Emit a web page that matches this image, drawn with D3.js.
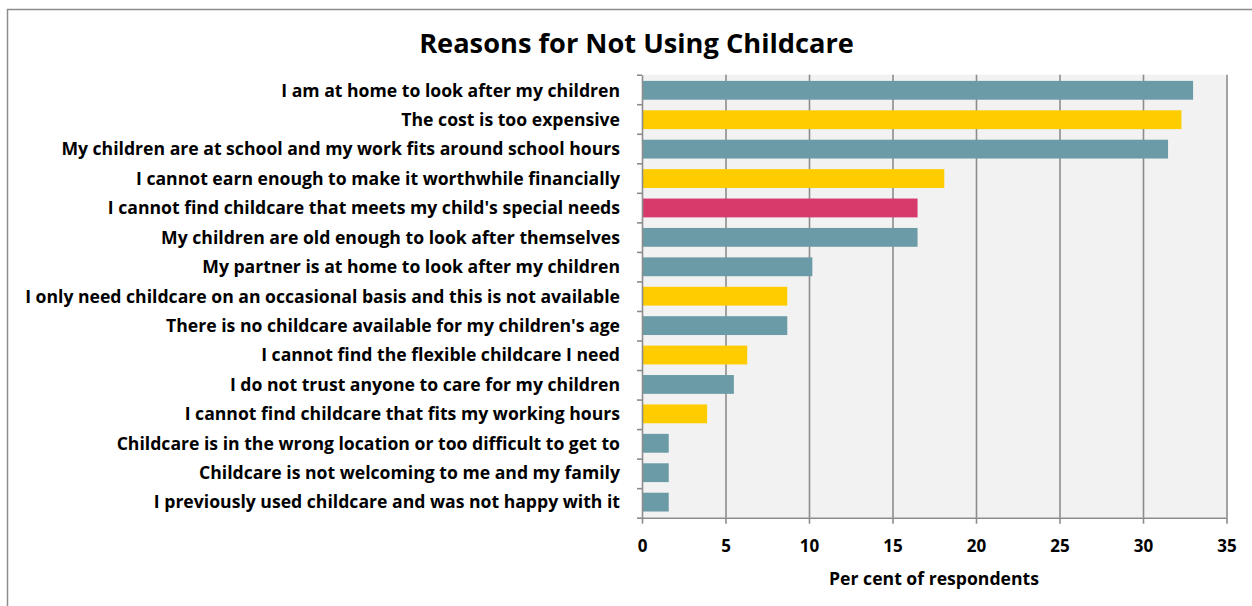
<!DOCTYPE html>
<html>
<head>
<meta charset="utf-8">
<script src="https://cdn.jsdelivr.net/npm/d3@7"></script>
<style>
  html, body { margin: 0; padding: 0; background: #fff; }
  svg { display: block; }
  text { font-family: "Open Sans", Lato, sans-serif; font-weight: 700; fill: #000; }
</style>
</head>
<body>
<svg id="chart" width="1252" height="606"></svg>
<script>
// Survey answers, top to bottom
const categories = [
  "I am at home to look after my children",
  "The cost is too expensive",
  "My children are at school and my work fits around school hours",
  "I cannot earn enough to make it worthwhile financially",
  "I cannot find childcare that meets my child's special needs",
  "My children are old enough to look after themselves",
  "My partner is at home to look after my children",
  "I only need childcare on an occasional basis and this is not available",
  "There is no childcare available for my children's age",
  "I cannot find the flexible childcare I need",
  "I do not trust anyone to care for my children",
  "I cannot find childcare that fits my working hours",
  "Childcare is in the wrong location or too difficult to get to",
  "Childcare is not welcoming to me and my family",
  "I previously used childcare and was not happy with it"
];
// Per cent of respondents giving each reason
const values = [33.0, 32.3, 31.5, 18.1, 16.5, 16.5, 10.2, 8.7, 8.7, 6.3, 5.5, 3.9, 1.6, 1.6, 1.6];
// Reason group: general, availability/cost, special needs
const groups = ["general", "supply", "general", "supply", "special", "general", "general",
                "supply", "general", "supply", "general", "supply", "general", "general", "general"];
const xTicks = [0, 5, 10, 15, 20, 25, 30, 35];

const title = "Reasons for Not Using Childcare";
const xTitle = "Per cent of respondents";

const colour = d3.scaleOrdinal()
  .domain(["general", "supply", "special"])
  .range(["#6a9ba6", "#ffcc00", "#d73a6b"]);

const svg = d3.select("#chart");
const plot = { left: 642, right: 1226.5, top: 74.7, bottom: 517.7 };
const FONT = "'Open Sans', Lato, sans-serif";

// Pick a font size so that the widest text of a selection spans the given width
function fitWidth(sel, base, target) {
  sel.style("font-size", base + "px");
  let widest = 0;
  sel.each(function () { widest = Math.max(widest, this.getComputedTextLength()); });
  const size = widest > 0 ? base * target / widest : base;
  sel.style("font-size", size.toFixed(2) + "px");
  return size;
}

// Outer chart frame
svg.append("rect")
  .attr("x", 7.5).attr("y", 9.5)
  .attr("width", 1300).attr("height", 700)
  .attr("fill", "none").attr("stroke", "#8c8c8c").attr("stroke-width", 1.5);

const x = d3.scaleLinear().domain([0, 35]).range([plot.left, plot.right]);
const y = d3.scaleBand().domain(categories)
  .range([plot.top, plot.bottom]).paddingInner(0.36).paddingOuter(0.21);
const yEdge = d3.scaleLinear().domain([0, categories.length]).range([plot.top, plot.bottom]);

// Plot background
svg.append("rect")
  .attr("x", plot.left).attr("y", plot.top)
  .attr("width", plot.right - plot.left).attr("height", plot.bottom - plot.top)
  .attr("fill", "#f2f2f2");

// Vertical gridlines
const grid = svg.append("g")
  .attr("transform", `translate(0,${plot.bottom})`)
  .call(d3.axisBottom(x).tickValues(xTicks.slice(1)).tickSize(-(plot.bottom - plot.top)).tickFormat(""));
grid.select(".domain").remove();
grid.selectAll(".tick line").attr("stroke", "#8c8c8c").attr("stroke-width", 1.6);

// Bars
svg.append("g").selectAll("rect")
  .data(categories)
  .join("rect")
  .attr("x", x(0))
  .attr("y", d => y(d))
  .attr("width", (d, i) => x(values[i]) - x(0))
  .attr("height", y.bandwidth())
  .attr("fill", (d, i) => colour(groups[i]));

// X axis
const xAxis = svg.append("g")
  .attr("transform", `translate(0,${plot.bottom})`)
  .call(d3.axisBottom(x).tickValues(xTicks).tickSize(6).tickPadding(10).tickSizeOuter(0));
xAxis.select(".domain").attr("stroke", "#8c8c8c").attr("stroke-width", 1.6);
xAxis.selectAll(".tick line").attr("stroke", "#8c8c8c").attr("stroke-width", 1.6);
xAxis.selectAll(".tick text")
  .attr("dy", null)
  .attr("y", 551.7 - plot.bottom)
  .style("font-size", "17px").style("font-family", FONT).style("font-weight", 700);

// Y axis: category boundary ticks
const yAxis = svg.append("g")
  .attr("transform", `translate(${plot.left},0)`)
  .call(d3.axisLeft(yEdge).tickValues(d3.range(categories.length + 1)).tickSize(5).tickFormat("").tickSizeOuter(0));
yAxis.select(".domain").attr("stroke", "#8c8c8c").attr("stroke-width", 1.6);
yAxis.selectAll(".tick line").attr("stroke", "#8c8c8c").attr("stroke-width", 1.6);

// Category labels
const labels = svg.append("g")
  .attr("transform", `translate(${plot.left},0)`)
  .call(d3.axisLeft(y).tickSize(0).tickPadding(22));
labels.select(".domain").remove();
const labelText = labels.selectAll(".tick text")
  .style("font-family", FONT).style("font-weight", 700)
  .attr("dy", "0.36em");
fitWidth(labelText, 16, 595);

// Title
const titleText = svg.append("text")
  .attr("x", 636.5).attr("y", 52.5)
  .attr("text-anchor", "middle")
  .text(title);
fitWidth(titleText, 26, 435);

// X axis title
const xTitleText = svg.append("text")
  .attr("x", 934).attr("y", 585)
  .attr("text-anchor", "middle")
  .text(xTitle);
fitWidth(xTitleText, 17, 210);
</script>
</body>
</html>
